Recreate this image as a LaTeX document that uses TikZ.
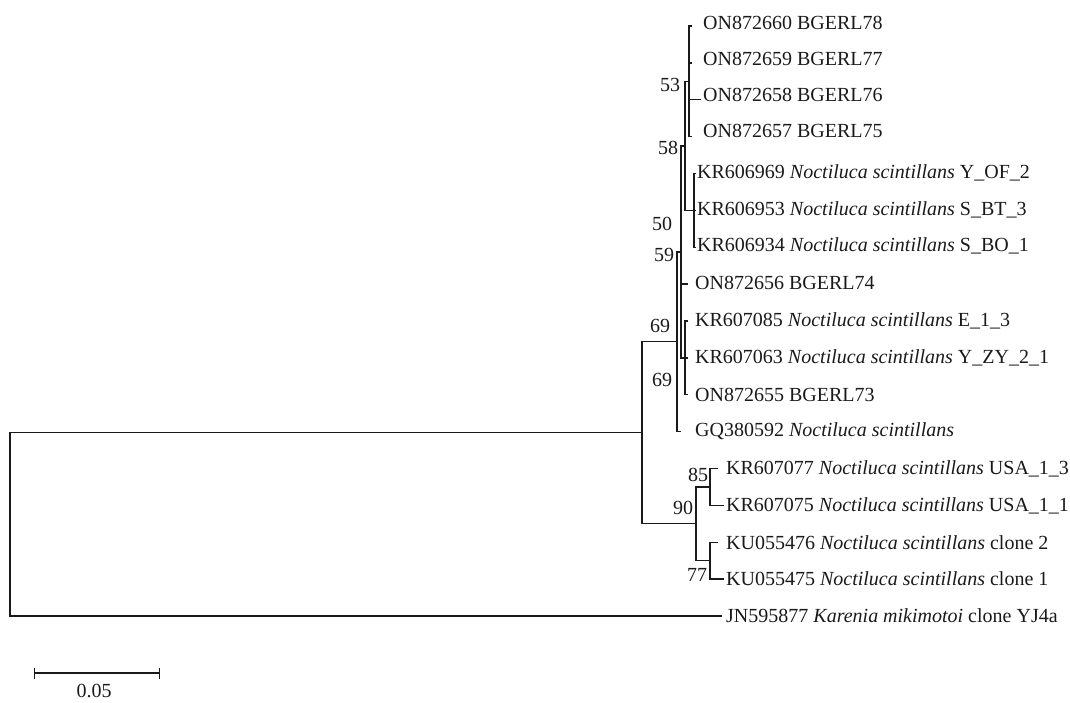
\documentclass[tikz,border=0pt]{standalone}
\usepackage{fontspec}
\setmainfont{Liberation Serif}
\usetikzlibrary{arrows.meta,positioning}
\definecolor{ink}{HTML}{1A1A1A}
\tikzset{
  branch/.style={draw=ink, line width=1.3pt},
  taxon/.style={anchor=west, inner sep=0pt, text=ink, font=\fontsize{20}{23}\selectfont},
  boot/.style={inner sep=0pt, text=ink, font=\fontsize{20}{23}\selectfont},
  scalebar/.style={branch, {Bar[width=11pt]}-{Bar[width=11pt]}},
}

\begin{document}
\begin{tikzpicture}[x=1pt, y=-1pt]
\useasboundingbox (0,0) rectangle (1070,702);

% leaves: tip x, gap to label, lift of label, label
\foreach \i/\tx/\gap/\lift/\txt in {
  0/692/11/3/{ON872660 BGERL78},
  1/692/11/4/{ON872659 BGERL77},
  2/701/2/5/{ON872658 BGERL76},
  3/692/11/6/{ON872657 BGERL75},
  4/696/1/1/{KR606969 \textit{Noctiluca scintillans} Y\_OF\_2},
  5/696/1/1/{KR606953 \textit{Noctiluca scintillans} S\_BT\_3},
  6/696/1/1/{KR606934 \textit{Noctiluca scintillans} S\_BO\_1},
  7/688/7/1/{ON872656 BGERL74},
  8/688/7/0/{KR607085 \textit{Noctiluca scintillans} E\_1\_3},
  9/688/7/0/{KR607063 \textit{Noctiluca scintillans} Y\_ZY\_2\_1},
  10/688/7/0/{ON872655 BGERL73},
  11/681/14/0/{GQ380592 \textit{Noctiluca scintillans}},
  12/718/8/0/{KR607077 \textit{Noctiluca scintillans} USA\_1\_3},
  13/724/2/0/{KR607075 \textit{Noctiluca scintillans} USA\_1\_1},
  14/718/8/0/{KU055476 \textit{Noctiluca scintillans} clone 2},
  15/724/2/0/{KU055475 \textit{Noctiluca scintillans} clone 1},
  16/722/4/0/{JN595877 \textit{Karenia mikimotoi} clone YJ4a}}
{
  \coordinate (t\i) at (\tx,{26+36.875*\i});
  \node[taxon, right=\gap pt of t\i, yshift=\lift pt] (leaf\i) {\txt};
}

% internal nodes
\coordinate (root) at (10,524.4);
\coordinate (n69a) at (642,432.8);
\coordinate (n69b) at (677,341.75);
\coordinate (n59) at (681,251.9);
\coordinate (n58) at (685,145.9);
\coordinate (n53) at (689,81.3);
\coordinate (nKR) at (694,210.4);
\coordinate (n69c) at (685,357.9);
\coordinate (n90) at (696,523.8);
\coordinate (n85) at (710,487);
\coordinate (n77) at (710,560.7);

% branches
\draw[branch] (root) |- (n69a);
\draw[branch] (root) |- (t16);
\draw[branch] (n69a) |- (n69b);
\draw[branch] (n69a) |- (n90);
\draw[branch] (n69b) |- (n59);
\draw[branch] (n69b) |- (t11);
\draw[branch] (n59) |- (n58);
\draw[branch] (n59) |- (t7);
\draw[branch] (n59) |- (n69c);
\draw[branch] (n58) |- (n53);
\draw[branch] (n58) |- (nKR);
\foreach \i in {0,...,3} \draw[branch] (n53) |- (t\i);
\foreach \i in {4,5,6} \draw[branch] (nKR) |- (t\i);
\foreach \i in {8,9,10} \draw[branch] (n69c) |- (t\i);
\draw[branch] (n90) |- (n85);
\draw[branch] (n90) |- (n77);
\draw[branch] (n85) |- (t12);
\draw[branch] (n85) |- (t13);
\draw[branch] (n77) |- (t14);
\draw[branch] (n77) |- (t15);

% bootstrap values
\node[boot] (b53) at (670,85) {53};
\node[boot] (b58) at (668,148) {58};
\node[boot] (b50) at (662,224) {50};
\node[boot] (b59) at (664,255) {59};
\node[boot] (b69a) at (660,326) {69};
\node[boot] (b69c) at (662,380) {69};
\node[boot] (b85) at (698,475) {85};
\node[boot] (b90) at (683,508) {90};
\node[boot] (b77) at (697,575) {77};

% scale
\coordinate (sbl) at (34,673);
\coordinate (sbr) at (160,673);
\draw[scalebar] (sbl) -- (sbr);
\node[boot, below=11pt of sbl, xshift=60pt] (sblbl) {0.05};
\end{tikzpicture}
\end{document}
